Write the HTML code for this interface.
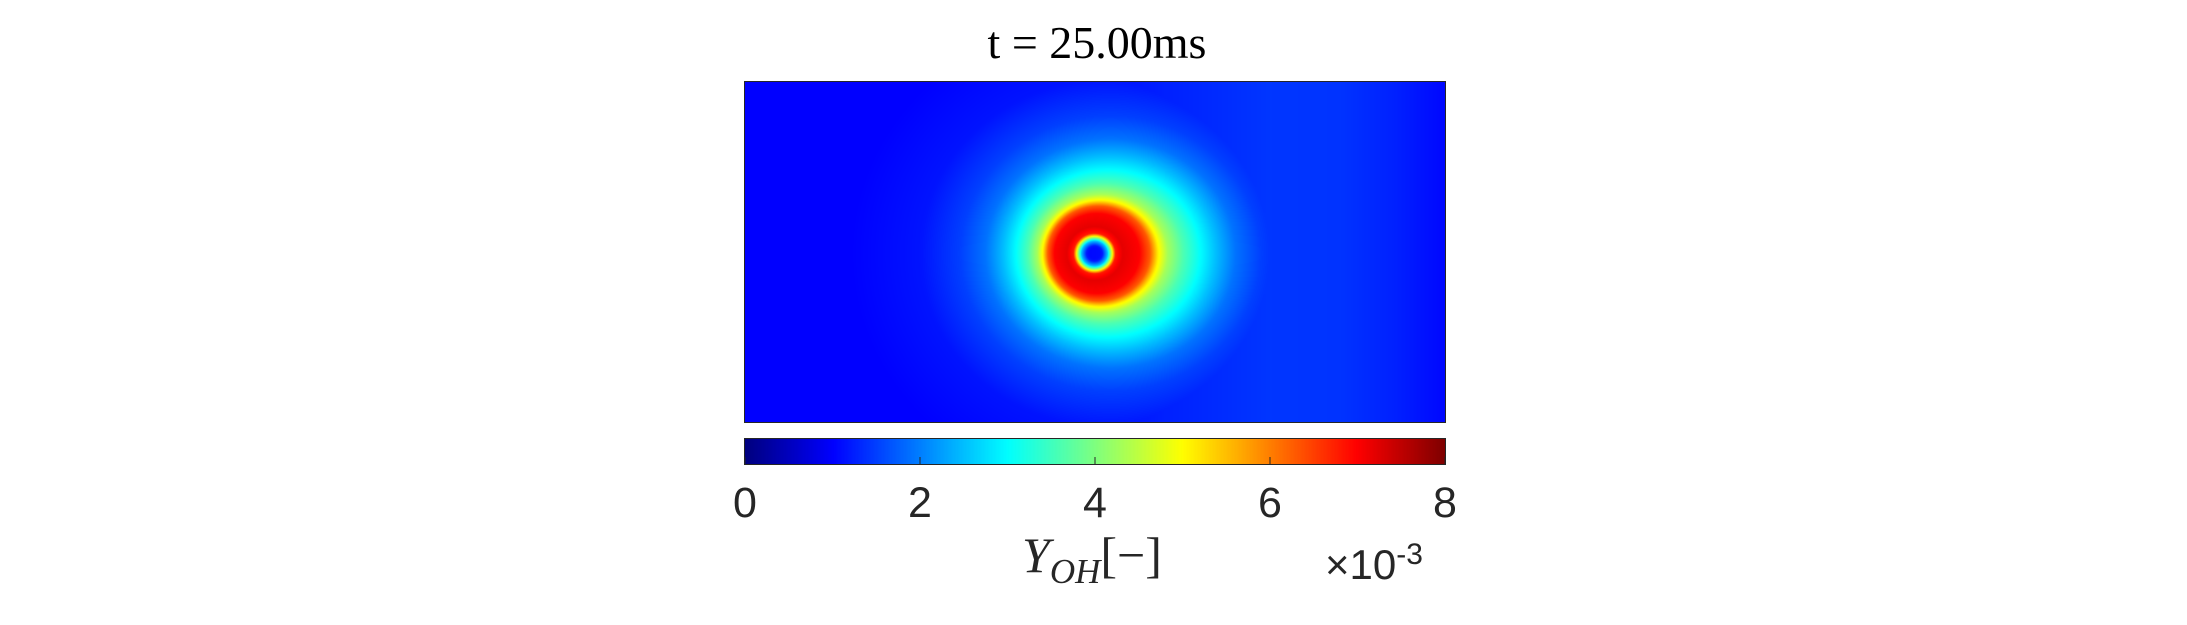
<!DOCTYPE html>
<html><head><meta charset="utf-8"><style>
html,body{margin:0;padding:0;background:#fff;width:2187px;height:625px;overflow:hidden;position:relative}
.t{position:absolute;font-family:"Liberation Sans",sans-serif;color:#262626;white-space:nowrap}
</style></head><body>
<div class="t" style="left:847px;top:16px;width:500px;text-align:center;font-family:'Liberation Serif',serif;font-size:46px;color:#000">t = 25.00ms</div>
<canvas id="field" width="700" height="340" style="position:absolute;left:745px;top:82px"></canvas>
<div style="position:absolute;left:744px;top:81px;width:700px;height:340px;border:1px solid #262626"></div>
<canvas id="cbar" width="700" height="25" style="position:absolute;left:745px;top:439px"></canvas>
<svg id="cbax" width="2187" height="625" style="position:absolute;left:0;top:0"></svg>
<div class="t" style="left:1022px;top:526px;font-family:'Liberation Serif',serif;font-style:italic;font-size:50px">Y<sub style="font-size:35px">OH</sub><span style="font-style:normal">[−]</span></div>
<div class="t" style="left:1325px;top:538px;font-size:42px">×10<sup style="font-size:30px">-3</sup></div>
<script>
// radial profile around the kernel (px radius -> Y_OH ×1e-3)
const radii=[0,8,13,17,21,28,42,50,56,63,75,90,105,125,150,190,260];
const profile=[0.8,1.2,2.5,4.5,6.8,7.2,7.0,6.3,5.1,4.3,3.6,3.0,2.5,1.9,1.5,1.15,1.0];
// background across x (fraction of width -> Y_OH ×1e-3)
const bgX=[0,0.1,0.3,0.45,0.6,0.75,0.85,0.93,1];
const bgVal=[0.78,0.65,0.72,1.0,1.25,1.42,1.4,1.25,1.05];
const ticks=[0,2,4,6,8];
const vmin=0,vmax=8;
function interp(xa,ya,x){if(x<=xa[0])return ya[0];for(let i=1;i<xa.length;i++){if(x<=xa[i]){const f=(x-xa[i-1])/(xa[i]-xa[i-1]);return ya[i-1]+f*(ya[i]-ya[i-1]);}}return ya[ya.length-1];}
function jet(v){const t=Math.max(0,Math.min(1,(v-vmin)/(vmax-vmin)));const f=(a)=>Math.max(0,Math.min(1,1.5-Math.abs(4*t-a)));return [f(3)*255,f(2)*255,f(1)*255];}
const W=700,H=340,cx=349,cy=171;
const c=document.getElementById('field').getContext('2d');const img=c.createImageData(W,H);
for(let y=0;y<H;y++)for(let x=0;x<W;x++){
 const r0=Math.hypot(x-cx,(y-cy)*1.04);
 const s=Math.max(0,Math.min(1,(r0-20)/90));
 const off=16*s*s*(3-2*s);
 const rr=Math.hypot(x-cx-off,(y-cy)*(1.04+0.05*s));
 const v=Math.max(interp(bgX,bgVal,x/W),interp(radii,profile,rr));
 const [R,G,B]=jet(v);const i=(y*W+x)*4;img.data[i]=R;img.data[i+1]=G;img.data[i+2]=B;img.data[i+3]=255;}
c.putImageData(img,0,0);
const cb=document.getElementById('cbar').getContext('2d');
for(let x=0;x<W;x++){const [R,G,B]=jet(vmin+(vmax-vmin)*x/(W-1));cb.fillStyle=`rgb(${R|0},${G|0},${B|0})`;cb.fillRect(x,0,1,25);}
const svg=document.getElementById('cbax');const ns='http://www.w3.org/2000/svg';
const sx=v=>745+(v-vmin)/(vmax-vmin)*700;
const bd=document.createElementNS(ns,'rect');


bd.setAttribute('x',744.5);bd.setAttribute('y',438.5);bd.setAttribute('width',701);bd.setAttribute('height',26);bd.setAttribute('fill','none');bd.setAttribute('stroke','#262626');svg.appendChild(bd);
ticks.forEach(v=>{
 const l=document.createElementNS(ns,'line');
 
 
 l.setAttribute('x1',sx(v));l.setAttribute('x2',sx(v));l.setAttribute('y1',464);l.setAttribute('y2',457);l.setAttribute('stroke','#262626');svg.appendChild(l);
 const t=document.createElementNS(ns,'text');
 
 
 t.setAttribute('x',sx(v));t.setAttribute('y',517);t.setAttribute('text-anchor','middle');t.setAttribute('font-family','Liberation Sans, sans-serif');t.setAttribute('font-size','43');t.setAttribute('fill','#262626');t.textContent=v;svg.appendChild(t);
});
</script>
</body></html>
